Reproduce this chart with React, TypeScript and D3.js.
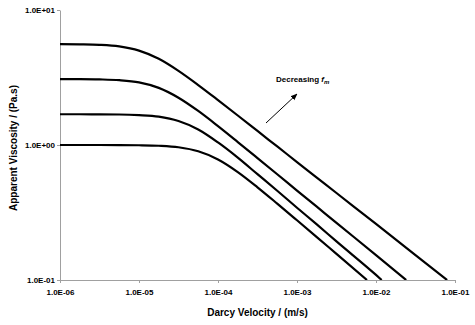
import React, { useEffect, useRef } from "react";
import * as d3 from "d3";

// [Darcy velocity (m/s), apparent viscosity (Pa.s)]
const curveA: [number, number][] = [
  [1e-6, 5.59], [1.78e-6, 5.57], [3.16e-6, 5.52], [5.62e-6, 5.37], [1e-5, 5.0],
  [1.78e-5, 4.35], [3.16e-5, 3.54], [5.62e-5, 2.78], [1e-4, 2.15],
  [1.78e-4, 1.654], [3.16e-4, 1.27], [5.62e-4, 0.975], [1e-3, 0.748],
  [1.78e-3, 0.574], [3.16e-3, 0.441], [1e-2, 0.26], [3.16e-2, 0.153], [0.0794, 0.1]
];
const curveB: [number, number][] = [
  [1e-6, 3.08], [1.78e-6, 3.076], [3.16e-6, 3.06], [5.62e-6, 3.02], [1e-5, 2.91],
  [1.78e-5, 2.65], [3.16e-5, 2.24], [5.62e-5, 1.787], [1e-4, 1.38],
  [1.78e-4, 1.052], [3.16e-4, 0.8], [5.62e-4, 0.607], [1e-3, 0.46],
  [1.78e-3, 0.349], [3.16e-3, 0.265], [1e-2, 0.153], [0.0241, 0.1]
];
const curveC: [number, number][] = [
  [1e-6, 1.69], [1.78e-6, 1.689], [3.16e-6, 1.685], [5.62e-6, 1.682], [1e-5, 1.664],
  [1.78e-5, 1.621], [3.16e-5, 1.504], [5.62e-5, 1.302], [1e-4, 1.044],
  [1.78e-4, 0.806], [3.16e-4, 0.608], [5.62e-4, 0.458], [1e-3, 0.343],
  [1.78e-3, 0.258], [3.16e-3, 0.193], [1e-2, 0.109], [0.0118, 0.1]
];
const curveD: [number, number][] = [
  [1e-6, 1.0], [1.78e-6, 1.0], [3.16e-6, 1.0], [5.62e-6, 0.999], [1e-5, 0.996],
  [1.78e-5, 0.987], [3.16e-5, 0.962], [5.62e-5, 0.898], [1e-4, 0.781],
  [1.78e-4, 0.63], [3.16e-4, 0.486], [5.62e-4, 0.368], [1e-3, 0.277],
  [1.78e-3, 0.208], [3.16e-3, 0.156], [0.00769, 0.1]
];
const curves = [curveA, curveB, curveC, curveD];

const xTicks = [1e-6, 1e-5, 1e-4, 1e-3, 1e-2, 1e-1];
const yTicks = [0.1, 1, 10];

const W = 475;
const H = 325;
const margin = { left: 60, right: 20, top: 10, bottom: 45 };
const FONT = "Arial, 'Liberation Sans', sans-serif";

const sci = (v: number) => {
  const e = Math.round(Math.log10(v));
  const m = v / Math.pow(10, e);
  const sign = e < 0 ? "-" : "+";
  return m.toFixed(1) + "E" + sign + String(Math.abs(e)).padStart(2, "0");
};

export default function App() {
  const ref = useRef<SVGSVGElement>(null);

  useEffect(() => {
    const svg = d3.select(ref.current);
    svg.selectAll("*").remove();

    const width = W - margin.left - margin.right;
    const height = H - margin.top - margin.bottom;

    const x = d3.scaleLog().domain([1e-6, 1e-1]).range([margin.left, margin.left + width]);
    const y = d3.scaleLog().domain([0.1, 10]).range([margin.top + height, margin.top]);

    // x axis
    const gx = svg
      .append("g")
      .attr("transform", `translate(0,${margin.top + height})`)
      .call(d3.axisBottom(x).tickValues(xTicks).tickFormat(d => sci(+d)).tickSize(3).tickSizeOuter(0));
    gx.select(".domain").attr("stroke", "#a0a0a0");
    gx.selectAll(".tick line").attr("stroke", "#a0a0a0");
    gx.selectAll(".tick text")
      .attr("dy", "0.71em")
      .attr("y", 9)
      .style("font", `bold 8px ${FONT}`)
      .attr("fill", "#000");

    // y axis
    const gy = svg
      .append("g")
      .attr("transform", `translate(${margin.left},0)`)
      .call(d3.axisLeft(y).tickValues(yTicks).tickFormat(d => sci(+d)).tickSize(3).tickSizeOuter(0));
    gy.select(".domain").attr("stroke", "#a0a0a0");
    gy.selectAll(".tick line").attr("stroke", "#a0a0a0");
    gy.selectAll(".tick text")
      .attr("x", -5)
      .style("font", `bold 8px ${FONT}`)
      .attr("fill", "#000");

    // curves
    svg
      .append("defs")
      .append("clipPath")
      .attr("id", "plot-clip")
      .append("rect")
      .attr("x", margin.left)
      .attr("y", margin.top - 5)
      .attr("width", width + 5)
      .attr("height", height + 5);

    const line = d3
      .line<[number, number]>()
      .x(d => x(d[0]))
      .y(d => y(d[1]))
      .curve(d3.curveMonotoneX);

    svg
      .append("g")
      .attr("clip-path", "url(#plot-clip)")
      .selectAll("path")
      .data(curves)
      .enter()
      .append("path")
      .attr("d", d => line(d))
      .attr("fill", "none")
      .attr("stroke", "#000")
      .attr("stroke-width", 2.2);

    // arrow + label
    svg
      .append("defs")
      .append("marker")
      .attr("id", "arrow-head")
      .attr("viewBox", "0 0 10 10")
      .attr("refX", 9)
      .attr("refY", 5)
      .attr("markerWidth", 7)
      .attr("markerHeight", 7)
      .attr("orient", "auto")
      .append("path")
      .attr("d", "M0,1 L10,5 L0,9 Z")
      .attr("fill", "#000");

    svg
      .append("line")
      .attr("x1", 266)
      .attr("y1", 123)
      .attr("x2", 297)
      .attr("y2", 94)
      .attr("stroke", "#000")
      .attr("stroke-width", 1)
      .attr("marker-end", "url(#arrow-head)");

    const lbl = svg
      .append("text")
      .attr("x", 276)
      .attr("y", 82)
      .style("font", `bold 8px ${FONT}`);
    lbl.append("tspan").text("Decreasing ");
    lbl.append("tspan").attr("font-style", "italic").text("f");
    lbl.append("tspan").attr("font-style", "italic").attr("font-size", "6px").attr("dy", 2).text("m");

    // axis titles
    svg
      .append("text")
      .attr("x", margin.left + width / 2)
      .attr("y", 316)
      .attr("text-anchor", "middle")
      .style("font", `bold 10px ${FONT}`)
      .text("Darcy Velocity / (m/s)");

    svg
      .append("text")
      .attr("transform", `translate(17,${margin.top + height / 2 + 3}) rotate(-90)`)
      .attr("text-anchor", "middle")
      .style("font", `bold 10px ${FONT}`)
      .text("Apparent Viscosity / (Pa.s)");
  }, []);

  return (
    <svg
      ref={ref}
      width={W}
      height={H}
      style={{ position: "absolute", left: 0, top: 0, background: "#fff" }}
    />
  );
}
